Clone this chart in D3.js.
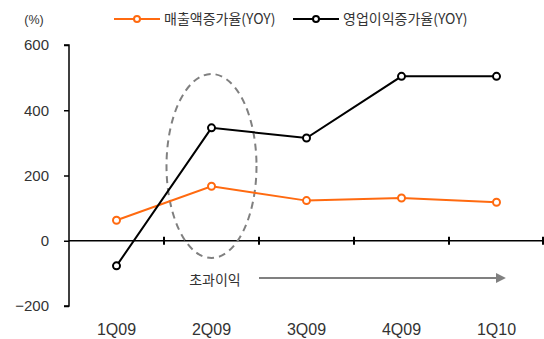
<!DOCTYPE html>
<html><head><meta charset="utf-8">
<script src="https://cdn.jsdelivr.net/npm/d3@7"></script>
<style>body{margin:0;background:#fff}svg{display:block;font-family:"Noto Sans CJK KR","Noto Sans",sans-serif}</style>
</head><body><svg id="c" width="544" height="339"></svg>
<script>
const categories = ["1Q09","2Q09","3Q09","4Q09","1Q10"];
const salesGrowth = [63, 167, 123, 131, 118];
const opGrowth = [-77, 346, 315, 504, 504];
const yTicks = [-200, 0, 200, 400, 600];
const seriesNames = ["매출액증가율(YOY)", "영업이익증가율(YOY)"];
const seriesColors = ["#ff6a10", "#000000"];

const svg = d3.select("#c");
const x = d3.scaleBand().domain(categories).range([69, 544]);
const y = d3.scaleLinear().domain([-200, 600]).range([306, 45]);

// y axis
const ya = svg.append("g").attr("transform","translate(69,0)")
  .call(d3.axisLeft(y).tickValues(yTicks).tickSize(5).tickPadding(15).tickFormat(d => d < 0 ? "\u2212" + Math.abs(d) : d));
ya.select(".domain").attr("stroke","#000").attr("stroke-width",1.5).attr("d","M-5,45H0V306H-5");
ya.selectAll(".tick line").attr("stroke","#000").attr("stroke-width",1.5);
ya.selectAll("text").attr("font-size",15).attr("fill","#333").attr("font-family","Liberation Sans, Arial, sans-serif");

// x axis at 0
const xa = svg.append("g").attr("transform",`translate(0,${y(0)})`)
  .call(d3.axisBottom(x).tickSize(0).tickFormat(""));
xa.select(".domain").attr("stroke","#000").attr("stroke-width",1.5).attr("d","M69,0H544");
xa.selectAll(".tick").remove();
const bounds = categories.slice(1).map(c => x(c)).concat([x(categories[4]) + x.bandwidth() - 1]);
xa.selectAll("line.tk").data(bounds).enter().append("line")
  .attr("x1", d => d).attr("x2", d => d).attr("y1", -4).attr("y2", 4)
  .attr("stroke","#000").attr("stroke-width",2);

// category labels
svg.append("g").selectAll("text").data(categories).enter().append("text")
  .attr("x", d => x(d) + x.bandwidth()/2).attr("y", 335)
  .attr("text-anchor","middle").attr("font-size",16).attr("fill","#333")
  .attr("font-family","Liberation Sans, Arial, sans-serif").text(d => d);

// (%) label
svg.append("text").attr("x",34).attr("y",24).attr("text-anchor","middle")
  .attr("font-size",12.5).attr("fill","#333").attr("font-family","Liberation Sans, Arial, sans-serif").text("(%)");

// ellipse
svg.append("ellipse").attr("cx", x("2Q09") + x.bandwidth()/2).attr("cy", 166)
  .attr("rx", 45).attr("ry", 92).attr("fill","none").attr("stroke","#808080")
  .attr("stroke-width",2).attr("stroke-dasharray","7,5");

// arrow
svg.append("defs").append("marker").attr("id","ah").attr("viewBox","0 0 10 10")
  .attr("refX",0).attr("refY",5).attr("markerWidth",4.5).attr("markerHeight",4.5)
  .attr("markerUnits","strokeWidth").attr("orient","auto")
  .append("path").attr("d","M0,0L10,5L0,10Z").attr("fill","#808080");
svg.append("line").attr("x1",259).attr("x2",496).attr("y1",278).attr("y2",278)
  .attr("stroke","#808080").attr("stroke-width",2.2).attr("marker-end","url(#ah)");
svg.append("text").attr("x",215).attr("y",285).attr("text-anchor","middle")
  .attr("font-size",14).attr("fill","#333").text("초과이익");

// lines
const line = d3.line().x((d,i) => x(categories[i]) + x.bandwidth()/2).y(d => y(d));
[salesGrowth, opGrowth].forEach((s, k) => {
  svg.append("path").datum(s).attr("d", line).attr("fill","none")
    .attr("stroke", seriesColors[k]).attr("stroke-width", 2);
  svg.append("g").selectAll("circle").data(s).enter().append("circle")
    .attr("cx", (d,i) => x(categories[i]) + x.bandwidth()/2).attr("cy", d => y(d))
    .attr("r", 3.5).attr("fill","#fff").attr("stroke", seriesColors[k]).attr("stroke-width", 2);
});

// legend
const legX = [114, 293];
seriesNames.forEach((n, k) => {
  const g = svg.append("g");
  g.append("line").attr("x1", legX[k]).attr("x2", legX[k] + 46).attr("y1", 19).attr("y2", 19)
    .attr("stroke", seriesColors[k]).attr("stroke-width", 2);
  g.append("circle").attr("cx", legX[k] + 23).attr("cy", 19).attr("r", 3)
    .attr("fill","#fff").attr("stroke", seriesColors[k]).attr("stroke-width", 2);
  g.append("text").attr("x", legX[k] + 50).attr("y", 24).attr("font-size",14).attr("fill","#333").text(n);
});
</script></body></html>
